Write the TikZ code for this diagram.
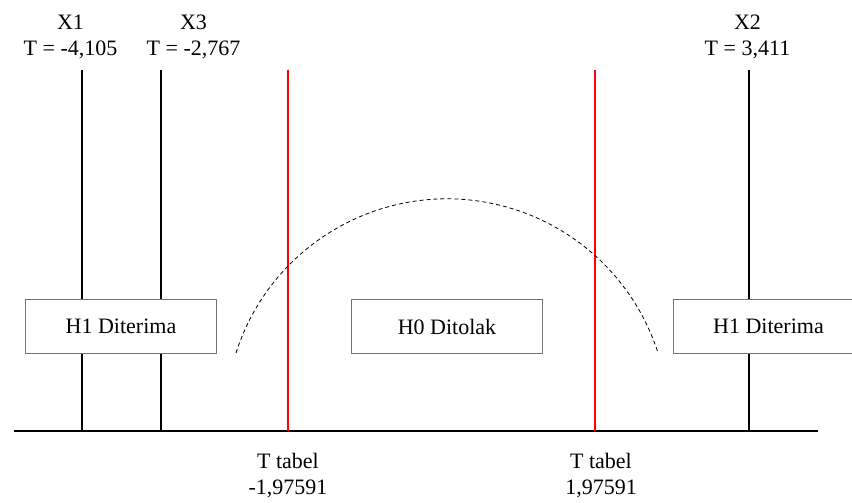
\documentclass[tikz,border=0pt]{standalone}
\usepackage{fontspec}
\setmainfont{Liberation Serif}
\usetikzlibrary{positioning}

\begin{document}
\begin{tikzpicture}[x=50pt,y=50pt,
    every node/.style={font=\fontsize{11}{13.25}\selectfont},
    garis/.style={line width=1pt},
    kotak/.style={draw=black!55, fill=white, line width=0.6pt, minimum width=95.3pt, minimum height=27pt, inner sep=0pt}]
    \useasboundingbox (0,0) rectangle (8.52,5.03);
    \clip (0,0) rectangle (8.52,5.03);

    % Sumbu
    \coordinate (axL) at (0.14,0.72);
    \coordinate (axR) at (8.18,0.72);
    \draw[garis] (axL) -- (axR);

    % Garis X1, X3, X2
    \coordinate (x1top) at (0.82,4.33);
    \coordinate (x1bot) at (0.82,0.72);
    \draw[garis] (x1top) -- (x1bot);
    \coordinate (x3top) at (1.61,4.33);
    \coordinate (x3bot) at (1.61,0.72);
    \draw[garis] (x3top) -- (x3bot);
    \coordinate (x2top) at (7.49,4.33);
    \coordinate (x2bot) at (7.49,0.72);
    \draw[garis] (x2top) -- (x2bot);

    % T tabel
    \coordinate (tkiritop) at (2.88,4.33);
    \coordinate (tkiribot) at (2.88,0.72);
    \draw[garis, red] (tkiritop) -- (tkiribot);
    \coordinate (tkanantop) at (5.95,4.33);
    \coordinate (tkananbot) at (5.95,0.72);
    \draw[garis, red] (tkanantop) -- (tkananbot);

    % Kurva
    \coordinate (kurvaA) at (2.36,1.50);
    \draw[dash pattern=on 2pt off 1.5pt, line width=0.4pt] (kurvaA) arc[start angle=162.3, end angle=17.7, radius=2.215];

    % Kotak
    \node[kotak] (hkiri) at (1.21,1.765) {H1 Diterima};
    \node[kotak] (hnol) at (4.47,1.765) {H0 Ditolak};
    \node[kotak] (hkanan) at (7.685,1.765) {H1 Diterima};

    % Label
    \node[align=center] (x1lbl) at (0.705,4.66) {X1\\T = -4,105};
    \node[align=center] (x3lbl) at (1.935,4.66) {X3\\T = -2,767};
    \node[align=center] (x2lbl) at (7.475,4.66) {X2\\T = 3,411};
    \node[align=center] (ttkiri) at (2.88,0.275) {T tabel\\-1,97591};
    \node[align=center] (ttkanan) at (6.01,0.275) {T tabel\\1,97591};
\end{tikzpicture}
\end{document}
